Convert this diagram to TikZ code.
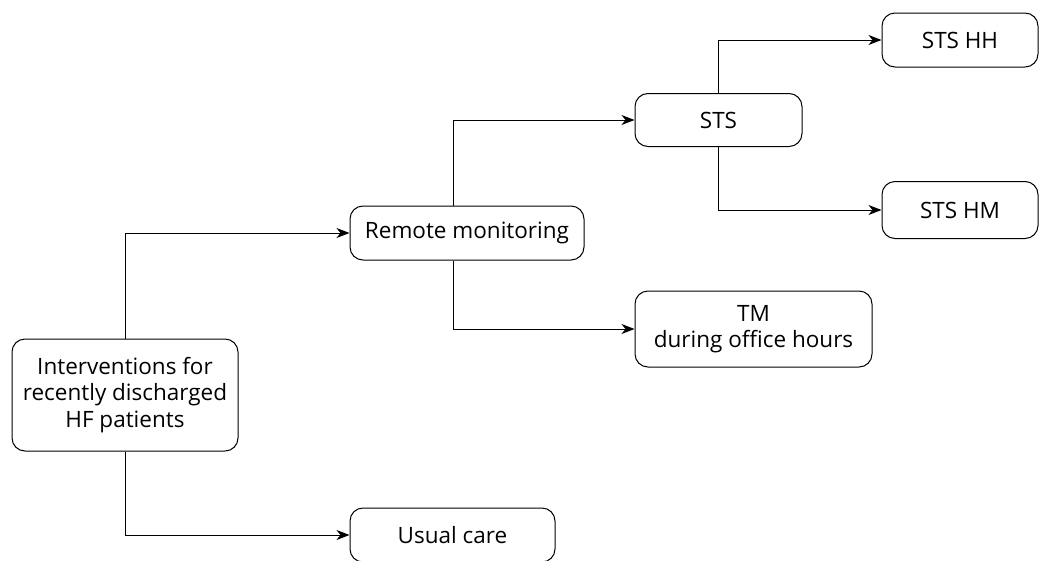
\documentclass[tikz,border=0pt]{standalone}
\usepackage{fontspec}
\setmainfont{Open Sans}
\usetikzlibrary{arrows.meta}
\begin{document}
\begin{tikzpicture}[x=1pt,y=-1pt,
  box/.style={draw, rounded corners=13pt, line width=1pt, align=center,
    inner sep=0pt, font=\fontsize{22.5}{26.5}\selectfont},
  conn/.style={line width=1pt, -{Stealth[length=13pt,width=10pt,inset=4pt]}}]
\useasboundingbox (0,0) rectangle (1039,560);
\node[box, minimum width=226pt, minimum height=112pt] (int) at (125,395)
  {Interventions for\\recently discharged\\HF patients};
\node[box, minimum width=234pt, minimum height=54pt] (rm) at (467,233) {Remote monitoring};
\node[box, minimum width=205pt, minimum height=54pt] (uc) at (452.5,535) {Usual care};
\node[box, minimum width=237pt, minimum height=76pt] (tm) at (753.5,329) {TM\\during office hours};
\node[box, minimum width=167pt, minimum height=53pt] (sts) at (718.5,120) {STS};
\node[box, minimum width=156pt, minimum height=54pt] (hh) at (960,40) {STS HH};
\node[box, minimum width=156pt, minimum height=57pt] (hm) at (960,210) {STS HM};
\coordinate (rmx) at (453,0);
\draw[conn] (int.north) |- (rm.west);
\draw[conn] (int.south) |- (uc.west);
\draw[conn] (rmx |- rm.north) |- (sts.west);
\draw[conn] (rmx |- rm.south) |- (tm.west);
\draw[conn] (sts.north) |- (hh.west);
\draw[conn] (sts.south) |- (hm.west);
\end{tikzpicture}
\end{document}
